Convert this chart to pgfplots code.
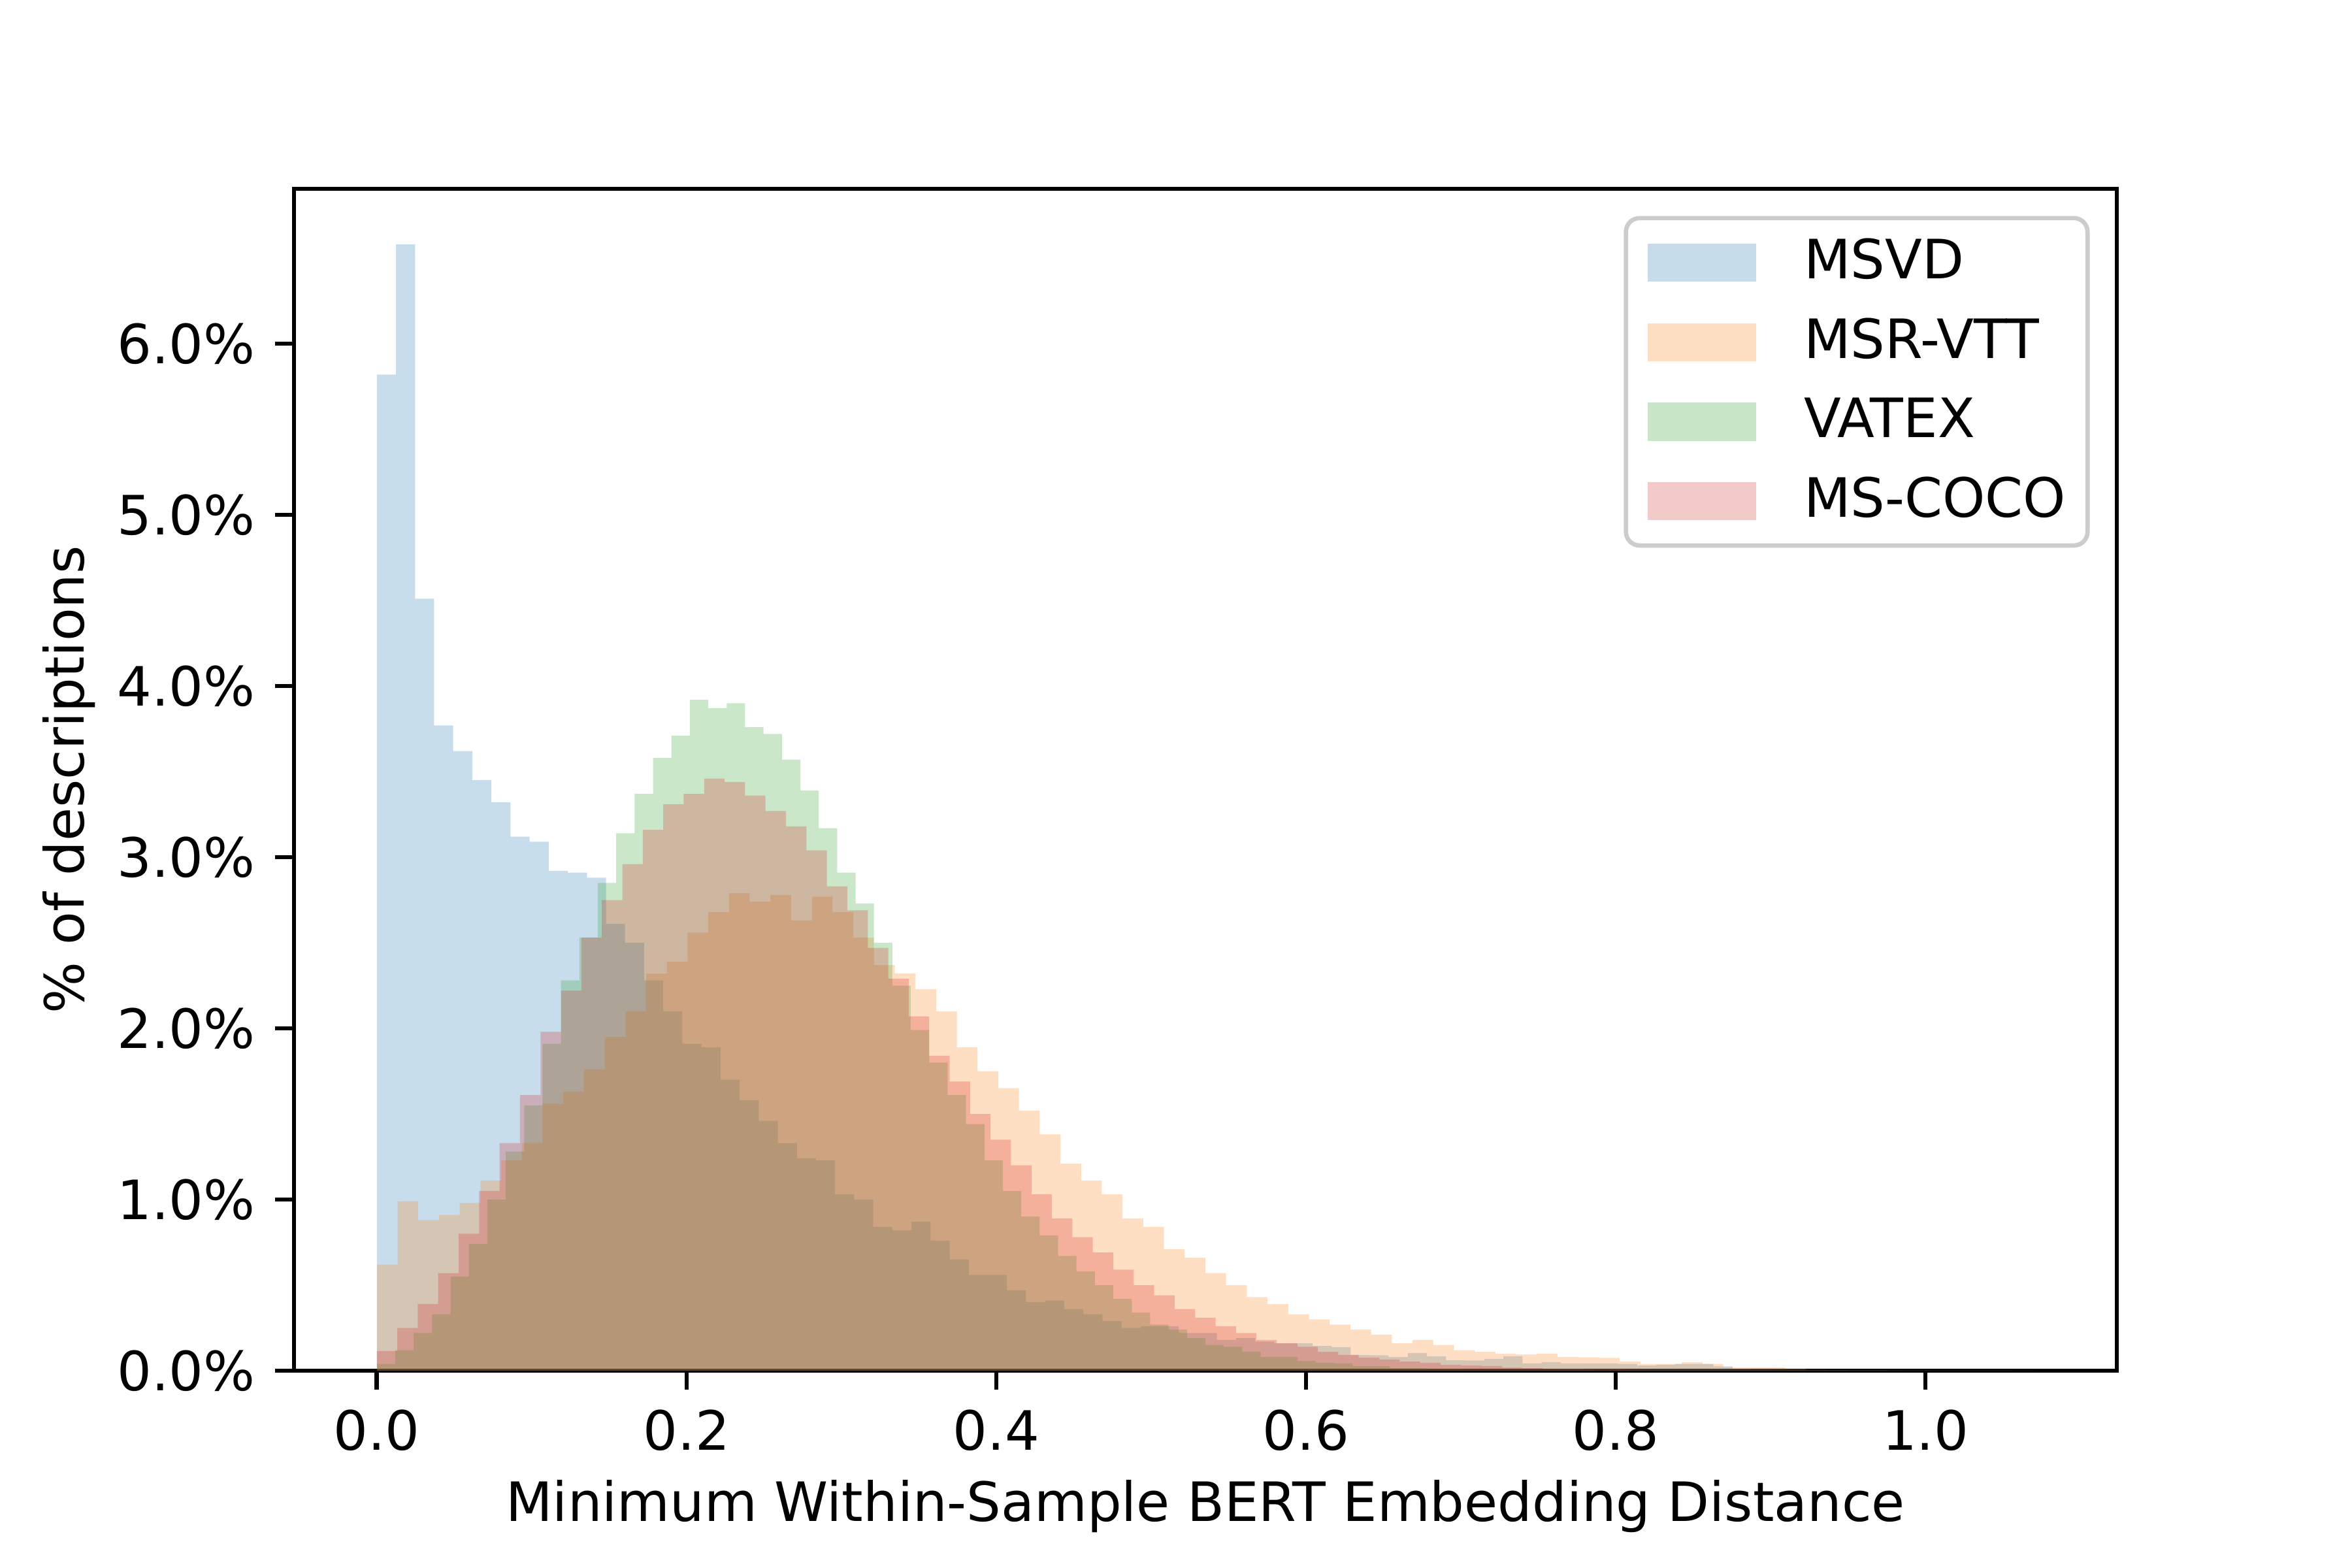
\documentclass[border=0pt]{standalone}
\usepackage{fontspec}
\setmainfont{DejaVu Sans}
\usepackage{pgfplots}
\usepackage{pgfplotstable}
\pgfplotsset{compat=1.18}
\definecolor{cA}{HTML}{1F77B4}
\definecolor{cB}{HTML}{FF7F0E}
\definecolor{cC}{HTML}{2CA02C}
\definecolor{cD}{HTML}{D62728}

\pgfplotstableread{
x y
0 5.82
0.01233 6.58
0.02466 4.51
0.03699 3.77
0.04932 3.62
0.06165 3.45
0.07398 3.32
0.08631 3.12
0.09864 3.09
0.11097 2.92
0.1233 2.91
0.13563 2.88
0.14796 2.61
0.16029 2.50
0.17262 2.28
0.18495 2.10
0.19728 1.91
0.20961 1.89
0.22194 1.70
0.23427 1.58
0.2466 1.46
0.25893 1.33
0.27126 1.24
0.28359 1.23
0.29592 1.03
0.30825 1.00
0.32058 0.84
0.33291 0.82
0.34524 0.87
0.35757 0.76
0.3699 0.65
0.38223 0.56
0.39456 0.56
0.40689 0.47
0.41922 0.40
0.43155 0.41
0.44388 0.36
0.45621 0.33
0.46854 0.29
0.48087 0.25
0.4932 0.26
0.50553 0.26
0.51786 0.22
0.53019 0.22
0.54252 0.18
0.55485 0.19
0.56718 0.17
0.57951 0.16
0.59184 0.16
0.60417 0.145
0.6165 0.138
0.62883 0.092
0.64116 0.09
0.65349 0.08
0.66582 0.103
0.67815 0.084
0.69048 0.061
0.70281 0.06
0.71514 0.069
0.72747 0.084
0.7398 0.042
0.75213 0.05
0.76446 0.042
0.77679 0.042
0.78912 0.042
0.80145 0.04
0.81378 0.03
0.82611 0.035
0.83844 0.04
0.85077 0.04
0.8631 0.025
0.87543 0.01
0.88776 0.008
0.90009 0.006
0.91242 0.005
0.92475 0.004
0.93708 0.003
0.94941 0.002
0.96174 0.002
0.97407 0.001
0.9864 0.001
}\msvd

\pgfplotstableread{
x y
0 0.62
0.01338 0.99
0.02675 0.88
0.04013 0.91
0.0535 0.98
0.06688 1.11
0.08026 1.23
0.09363 1.33
0.10701 1.56
0.12038 1.63
0.13376 1.76
0.14714 1.95
0.16051 2.10
0.17389 2.32
0.18726 2.39
0.20064 2.56
0.21402 2.68
0.22739 2.79
0.24077 2.74
0.25414 2.78
0.26752 2.63
0.2809 2.77
0.29427 2.68
0.30765 2.53
0.32102 2.37
0.3344 2.32
0.34778 2.23
0.36115 2.10
0.37453 1.89
0.3879 1.75
0.40128 1.65
0.41466 1.52
0.42803 1.38
0.44141 1.21
0.45478 1.11
0.46816 1.03
0.48154 0.89
0.49491 0.84
0.50829 0.71
0.52166 0.66
0.53504 0.57
0.54842 0.50
0.56179 0.43
0.57517 0.39
0.58854 0.33
0.60192 0.30
0.6153 0.27
0.62867 0.24
0.64205 0.21
0.65542 0.16
0.6688 0.18
0.68218 0.15
0.69555 0.12
0.70893 0.11
0.7223 0.10
0.73568 0.095
0.74906 0.10
0.76243 0.08
0.77581 0.078
0.78918 0.075
0.80256 0.053
0.81594 0.04
0.82931 0.04
0.84269 0.05
0.85606 0.04
0.86944 0.02
0.88282 0.02
0.89619 0.02
0.90957 0.01
0.92294 0.005
0.93632 0.004
0.9497 0.003
0.96307 0.003
0.97645 0.002
0.98982 0.002
1.0032 0.001
1.01658 0.001
1.02995 0.001
1.04333 0.001
1.0567 0.001
1.07008 0.001
}\msrvtt

\pgfplotstableread{
x y
0 0.04
0.01189 0.12
0.02378 0.22
0.03567 0.33
0.04756 0.55
0.05945 0.74
0.07134 1.00
0.08323 1.28
0.09512 1.55
0.10701 1.91
0.1189 2.28
0.13079 2.53
0.14268 2.85
0.15457 3.14
0.16646 3.37
0.17835 3.58
0.19024 3.71
0.20213 3.92
0.21402 3.87
0.22591 3.90
0.2378 3.76
0.24969 3.72
0.26158 3.57
0.27347 3.39
0.28536 3.17
0.29725 2.91
0.30914 2.73
0.32103 2.50
0.33292 2.25
0.34481 1.99
0.3567 1.80
0.36859 1.61
0.38048 1.44
0.39237 1.23
0.40426 1.05
0.41615 0.90
0.42804 0.79
0.43993 0.67
0.45182 0.58
0.46371 0.50
0.4756 0.42
0.48749 0.34
0.49938 0.27
0.51127 0.24
0.52316 0.19
0.53505 0.15
0.54694 0.14
0.55883 0.11
0.57072 0.08
0.58261 0.08
0.5945 0.057
0.60639 0.046
0.61828 0.042
0.63017 0.027
0.64206 0.027
0.65395 0.015
0.66584 0.015
0.67773 0.008
0.68962 0.008
0.70151 0.005
0.7134 0.004
0.72529 0.003
0.73718 0.003
0.74907 0.002
0.76096 0.002
0.77285 0.002
0.78474 0.001
0.79663 0.001
0.80852 0.001
0.82041 0.001
0.8323 0.001
0.84419 0.001
0.85608 0.001
0.86797 0.001
0.87986 0.001
0.89175 0.001
0.90364 0.001
0.91553 0.001
0.92742 0.001
0.93931 0.001
0.9512 0.001
}\vatex

\pgfplotstableread{
x y
0 0.115
0.01321 0.25
0.02642 0.39
0.03963 0.57
0.05284 0.80
0.06605 1.05
0.07926 1.33
0.09247 1.61
0.10568 1.98
0.11889 2.22
0.1321 2.53
0.14531 2.75
0.15852 2.96
0.17173 3.16
0.18494 3.31
0.19815 3.37
0.21136 3.46
0.22457 3.44
0.23778 3.36
0.25099 3.27
0.2642 3.18
0.27741 3.04
0.29062 2.83
0.30383 2.69
0.31704 2.47
0.33025 2.29
0.34346 2.07
0.35667 1.84
0.36988 1.69
0.38309 1.50
0.3963 1.35
0.40951 1.20
0.42272 1.03
0.43593 0.89
0.44914 0.78
0.46235 0.69
0.47556 0.59
0.48877 0.50
0.50198 0.44
0.51519 0.36
0.5284 0.31
0.54161 0.26
0.55482 0.22
0.56803 0.18
0.58124 0.16
0.59445 0.14
0.60766 0.11
0.62087 0.092
0.63408 0.076
0.64729 0.065
0.6605 0.053
0.67371 0.046
0.68692 0.034
0.70013 0.03
0.71334 0.027
0.72655 0.019
0.73976 0.015
0.75297 0.011
0.76618 0.011
0.77939 0.008
0.7926 0.008
0.80581 0.005
0.81902 0.004
0.83223 0.004
0.84544 0.003
0.85865 0.003
0.87186 0.002
0.88507 0.002
0.89828 0.001
0.91149 0.001
0.9247 0.001
0.93791 0.001
0.95112 0.001
0.96433 0.001
0.97754 0.001
0.99075 0.001
1.00396 0.001
1.01717 0.001
1.03038 0.001
1.04359 0.001
1.0568 0.001
}\mscoco

\begin{document}
\begin{tikzpicture}
\useasboundingbox (0,0) rectangle (6in,4in);
\begin{axis}[
  at={(0.75in,0.50333in)}, anchor=south west,
  scale only axis, width=4.65in, height=3.015in,
  xmin=-0.0535, xmax=1.1236, ymin=0, ymax=6.905,
  font=\fontsize{10}{12}\selectfont,
  axis line style={line width=0.8pt},
  every tick/.style={black, line width=0.8pt},
  tick align=outside, major tick length=3.5pt,
  xtick pos=left, ytick pos=left,
  xtick={0,0.2,0.4,0.6,0.8,1.0},
  ytick={0,1,2,3,4,5,6},
  /pgf/number format/assume math mode=true,
  xticklabel={\pgfmathprintnumber[fixed,fixed zerofill,precision=1]{\tick}},
  yticklabel={\pgfmathprintnumber[fixed,fixed zerofill,precision=1]{\tick}\%},
  xticklabel style={inner sep=0pt, yshift=-3.5pt},
  yticklabel style={inner sep=0pt, xshift=-3.5pt},
  xlabel={Minimum Within-Sample BERT Embedding Distance},
  ylabel={\% of descriptions},
  xlabel style={inner sep=0pt, yshift=-5.2pt},
  ylabel style={inner sep=0pt, yshift=3.8pt},
  legend cell align=left,
  legend image code/.code={\fill[#1, sharp corners] (0pt,-3.5pt) rectangle (20pt,3.5pt);},
  legend style={at={(1,1)}, anchor=north east, xshift=-5pt, yshift=-5pt,
    draw=black!20, line width=0.8pt, rounded corners=2.5pt, fill=white, fill opacity=0.8, text opacity=1,
    inner xsep=4pt, inner ysep=3.7pt, row sep=5.8pt, column sep=8.8pt,
    nodes={inner sep=0pt, anchor=west}, font=\fontsize{10}{12}\selectfont},
]
\addplot[const plot, fill=cA, fill opacity=0.25, draw=none] table[x=x,y=y]{\msvd} \closedcycle;
\addlegendentry{MSVD}
\addplot[const plot, fill=cB, fill opacity=0.25, draw=none] table[x=x,y=y]{\msrvtt} \closedcycle;
\addlegendentry{MSR-VTT}
\addplot[const plot, fill=cC, fill opacity=0.25, draw=none] table[x=x,y=y]{\vatex} \closedcycle;
\addlegendentry{VATEX}
\addplot[const plot, fill=cD, fill opacity=0.25, draw=none] table[x=x,y=y]{\mscoco} \closedcycle;
\addlegendentry{MS-COCO}
\end{axis}
\end{tikzpicture}
\end{document}
